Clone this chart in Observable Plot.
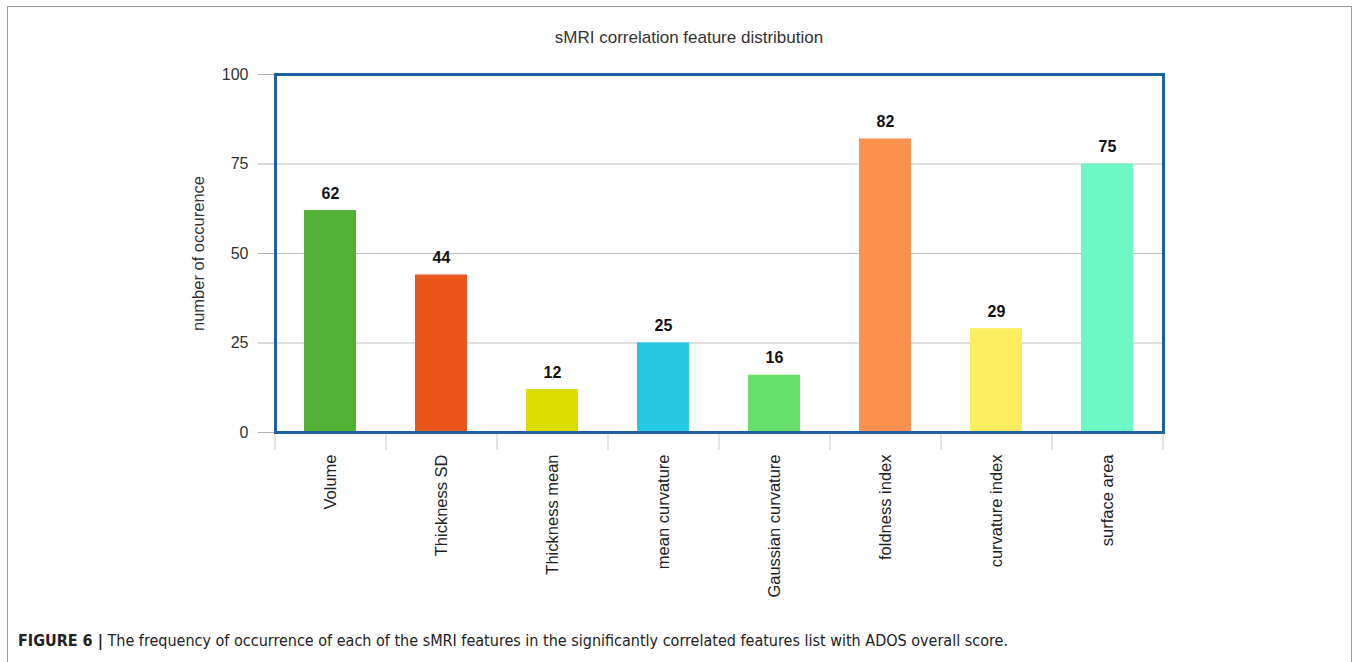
<!DOCTYPE html>
<html>
<head>
<meta charset="utf-8">
<script src="https://cdn.jsdelivr.net/npm/d3@7"></script>
<script src="https://cdn.jsdelivr.net/npm/@observablehq/plot@0.6"></script>
<style>
  html, body { margin: 0; padding: 0; background: #fff; }
  body { width: 1357px; height: 662px; position: relative; overflow: hidden; font-family: "Liberation Sans", Arial, sans-serif; }
  #border { position: absolute; left: 7px; top: 6px; width: 1345px; height: 700px; border: 1.5px solid #9a9a9a; box-sizing: border-box; }
  #title { position: absolute; left: 439px; width: 500px; top: 28px; text-align: center; font-size: 17px; color: #333; line-height: 20px; }
  #chart { position: absolute; left: 0; top: 0; }
  #caption { position: absolute; left: 18px; top: 633px; font-family: "DejaVu Sans Condensed", "Liberation Sans Narrow", Arial, sans-serif; font-size: 16px; line-height: 16px; color: #222; white-space: nowrap; }
  #caption b { color: #222; }
</style>
</head>
<body>
<div id="border"></div>
<div id="title">sMRI correlation feature distribution</div>
<div id="chart"></div>
<div id="caption"><b>FIGURE 6 |</b> The frequency of occurrence of each of the sMRI features in the significantly correlated features list with ADOS overall score.</div>
<script>
const categories = ["Volume", "Thickness SD", "Thickness mean", "mean curvature", "Gaussian curvature", "foldness index", "curvature index", "surface area"];
const values = [62, 44, 12, 25, 16, 82, 29, 75];
const colors = ["#52b135", "#e8561c", "#dcdc00", "#27c7e3", "#66e06a", "#fd9150", "#fdee60", "#6ff8c5"];
const yTicks = [0, 25, 50, 75, 100];
const gridTicks = [25, 50, 75];

const data = categories.map((c, i) => ({feature: c, count: values[i], color: colors[i]}));

const chart = Plot.plot({
  width: 1357,
  height: 610,
  marginLeft: 275,
  marginRight: 194,
  marginTop: 74,
  marginBottom: 178,
  style: {fontFamily: "Liberation Sans, Arial, sans-serif", fontSize: "16px", color: "#333", background: "transparent", overflow: "visible"},
  x: {domain: categories, paddingInner: 0.53, paddingOuter: 0.265, label: null},
  y: {domain: [0, 100], label: null},
  color: {type: "identity"},
  marks: [
    Plot.gridY(gridTicks, {stroke: "#bdbdbd", strokeOpacity: 1, strokeWidth: 1.2}),
    Plot.barY(data, {x: "feature", y: "count", fill: "color"}),
    Plot.text(data, {x: "feature", y: "count", text: d => String(d.count), dy: -17, fontWeight: "bold", fontSize: 16, fill: "#111"}),
    Plot.ruleX(categories, {x: d => d, y1: 0, y2: -5, dx: -55.5, stroke: "#c8c8c8"}),
    Plot.ruleX([categories[categories.length - 1]], {x: d => d, y1: 0, y2: -5, dx: 55.5, stroke: "#c8c8c8"}),
    Plot.axisY({ticks: yTicks, tickSize: 17, tickPadding: 10, stroke: "#b0b0b0", fill: "#333", fontSize: 16, label: null}),
    Plot.text(["number of occurence"], {frameAnchor: "left", textAnchor: "middle", dx: -77, rotate: -90, fontSize: 16.5, fill: "#333"}),
    Plot.axisX({tickSize: 0, tickRotate: -90, tickPadding: 22, fill: "#222", fontSize: 16.5, label: null}),
    Plot.frame({stroke: "#1f60a0", strokeWidth: 3})
  ]
});
document.getElementById("chart").appendChild(chart);
</script>
</body>
</html>
